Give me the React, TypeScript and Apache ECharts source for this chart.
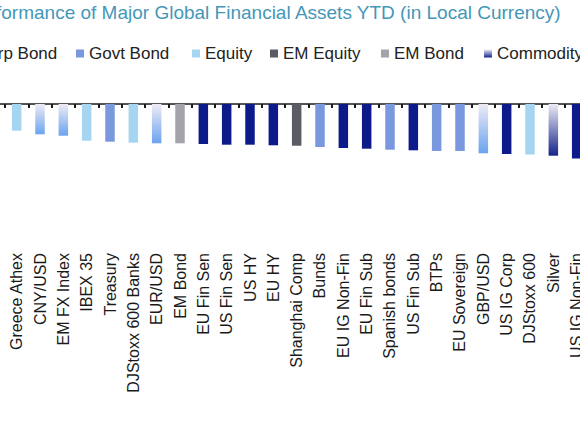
import React, { useEffect, useRef } from "react";
import * as echarts from "echarts";

const titleText = "Performance of Major Global Financial Assets YTD (in Local Currency)";

const categories = [
  "",
  "Greece Athex", "CNY/USD", "EM FX Index", "IBEX 35", "Treasury",
  "DJStoxx 600 Banks", "EUR/USD", "EM Bond", "EU Fin Sen", "US Fin Sen",
  "US HY", "EU HY", "Shanghai Comp", "Bunds", "EU IG Non-Fin",
  "EU Fin Sub", "Spanish bonds", "US Fin Sub", "BTPs", "EU Sovereign",
  "GBP/USD", "US IG Corp", "DJStoxx 600", "Silver", "US IG Non-Fin",
];

const assetClass = [
  "",
  "Equity", "FX", "FX", "Equity", "Govt Bond",
  "Equity", "FX", "EM Bond", "Corp Bond", "Corp Bond",
  "Corp Bond", "Corp Bond", "EM Equity", "Govt Bond", "Corp Bond",
  "Corp Bond", "Govt Bond", "Corp Bond", "Govt Bond", "Govt Bond",
  "FX", "Corp Bond", "Equity", "Commodity", "Corp Bond",
];

const values = [
  null,
  -2.67, -3.03, -3.17, -3.67, -3.77,
  -3.87, -3.93, -3.93, -4.0, -4.07,
  -4.07, -4.13, -4.17, -4.3, -4.4,
  -4.47, -4.57, -4.63, -4.7, -4.7,
  -4.93, -5.0, -5.05, -5.17, -5.45,
];

const classNames = ["Corp Bond", "Govt Bond", "Equity", "EM Equity", "EM Bond", "Commodity", "FX"];
const legendNames = ["Corp Bond", "Govt Bond", "Equity", "EM Equity", "EM Bond", "Commodity"];
const legendTextStart = [-24, 89, 205, 283, 394, 497];

const grad = (top: string, bottom: string) =>
  new echarts.graphic.LinearGradient(0, 0, 0, 1, [
    { offset: 0, color: top },
    { offset: 1, color: bottom },
  ]);

const classColors: Record<string, any> = {
  "Corp Bond": "#0c1a8a",
  "Govt Bond": "#7a98de",
  Equity: "#a6d5f2",
  "EM Equity": "#5a5b63",
  "EM Bond": "#a3a3ab",
  Commodity: grad("#ecebf5", "#14248a"),
  FX: grad("#efebf6", "#6aa3ee"),
};

const FONT = "'Liberation Sans', Arial, Helvetica, sans-serif";

export default function App() {
  const ref = useRef<HTMLDivElement>(null);
  useEffect(() => {
    if (!ref.current) return;
    const chart = echarts.init(ref.current, null, { renderer: "svg" });
    const itemW = 8;
    chart.setOption({
      animation: false,
      backgroundColor: "#ffffff",
      textStyle: { fontFamily: FONT },
      title: {
        text: titleText,
        right: 18,
        top: 3,
        padding: 0,
        textStyle: { color: "#4597b8", fontSize: 19, fontWeight: "normal", fontFamily: FONT },
      },
      legend: legendNames.map((n, i) => ({
        data: [n],
        left: legendTextStart[i] - itemW - 5,
        top: 45,
        padding: 0,
        itemWidth: itemW,
        itemHeight: 8,
        icon: "rect",
        selectedMode: false,
        textStyle: { fontSize: 17, color: "#222", fontFamily: FONT },
      })),
      grid: {
        left: -18.33,
        right: -8.33,
        top: 84,
        height: 140,
        containLabel: false,
        outerBoundsMode: "none",
      },
      xAxis: {
        type: "category",
        data: categories,
        axisLine: { onZero: true, lineStyle: { color: "#1a1a1a", width: 1.5 } },
        axisTick: { show: true, length: 4, lineStyle: { color: "#1a1a1a", width: 2 } },
        axisLabel: {
          rotate: 90,
          interval: 0,
          margin: 29,
          fontSize: 16,
          color: "#1a1a1a",
          fontFamily: FONT,
        },
        splitLine: { show: false },
      },
      yAxis: { type: "value", min: -12, max: 2, show: false },
      series: classNames.map((cls) => ({
        name: cls,
        type: "bar",
        barWidth: 9.5,
        barGap: "-100%",
        itemStyle: { color: classColors[cls] },
        data: values.map((v, i) => (assetClass[i] === cls ? v : null)),
      })),
    });
    return () => chart.dispose();
  }, []);
  return (
    <div
      ref={ref}
      style={{ position: "fixed", left: 0, top: 0, width: 580, height: 426, background: "#fff" }}
    />
  );
}
